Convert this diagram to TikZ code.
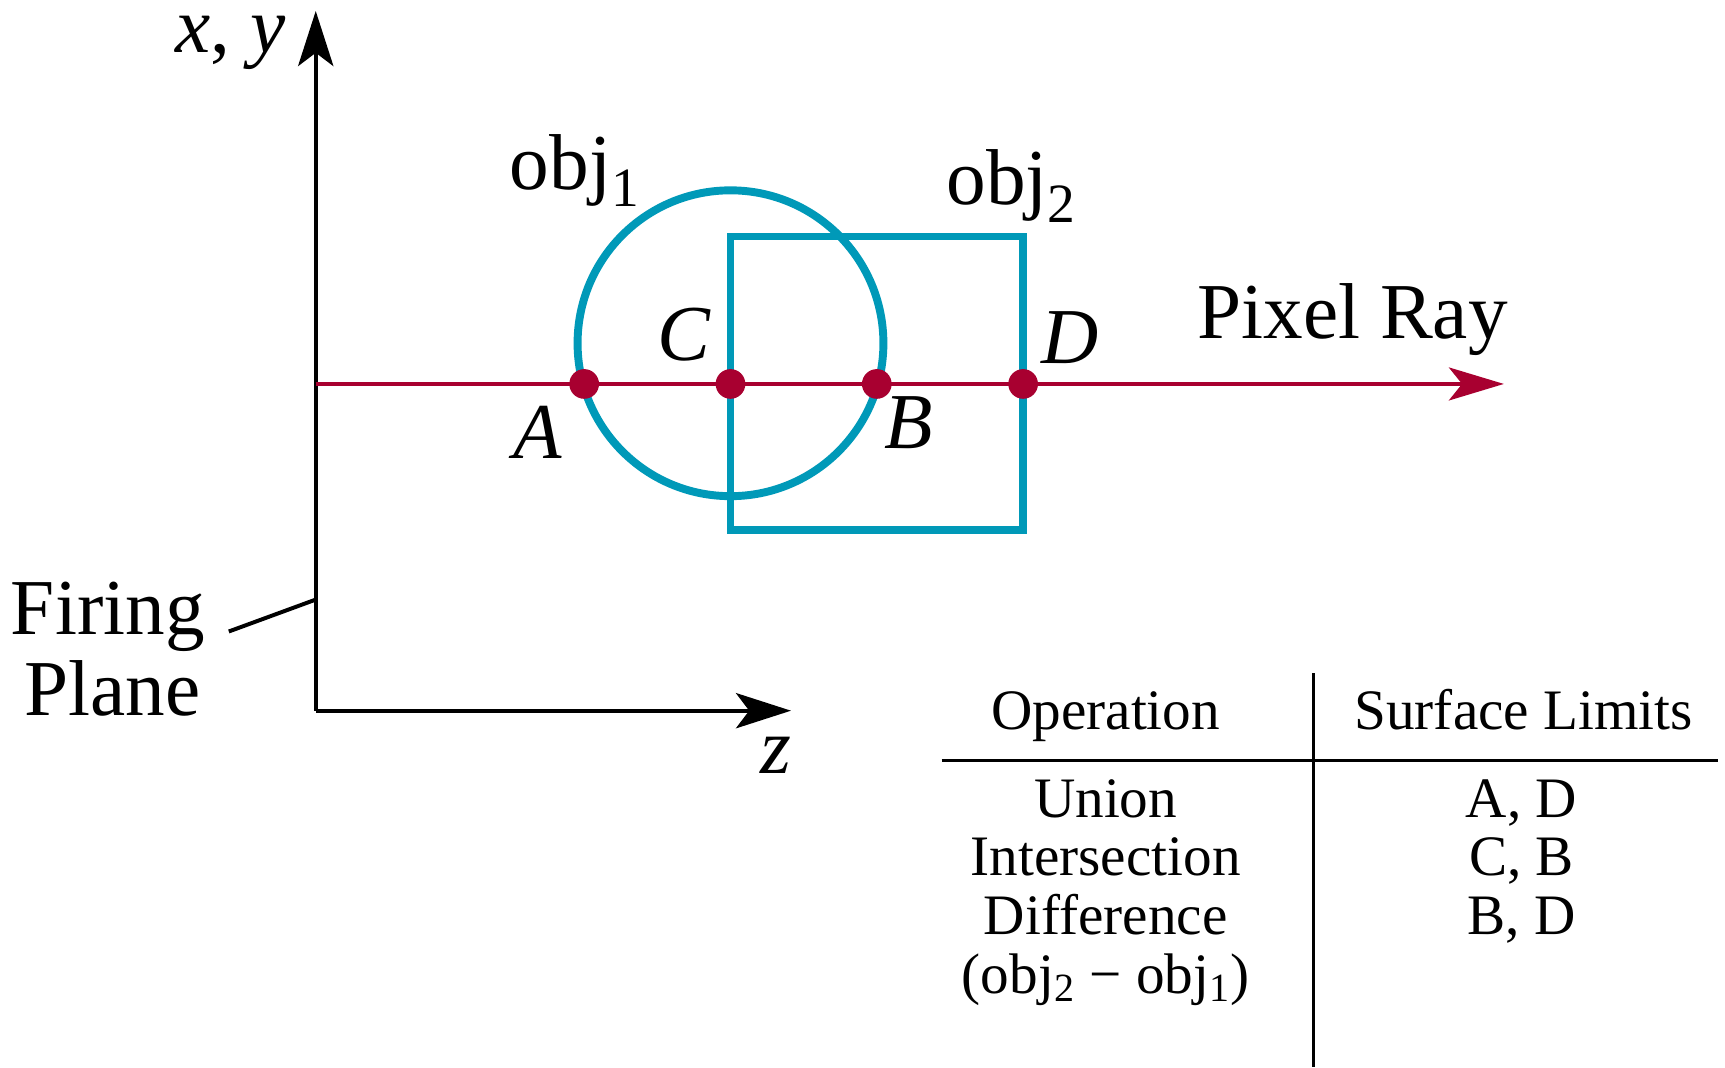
\documentclass[tikz,border=0pt]{standalone}
\usepackage{fontspec}
\setmainfont{Liberation Serif}
\usetikzlibrary{arrows.meta}
\definecolor{tealobj}{RGB}{0,153,184}
\definecolor{raycol}{RGB}{168,0,48}
\begin{document}
\begin{tikzpicture}[x=0.5pt,y=-0.5pt,
  big/.style={font=\fontsize{36}{40}\selectfont, inner sep=0pt},
  bigit/.style={font=\fontsize{36}{40}\selectfont\itshape, inner sep=0pt},
  tab/.style={font=\fontsize{26}{26}\selectfont, inner sep=0pt},
  axisline/.style={line width=1.8pt, -{Stealth[length=25pt,width=16pt,inset=6pt]}},
  objline/.style={draw=tealobj, line width=3.6pt},
  rayline/.style={draw=raycol, line width=1.6pt, -{Stealth[length=25pt,width=15pt,inset=6pt]}},
  hit/.style={circle, fill=raycol, minimum size=13.5pt, inner sep=0pt},
  rule/.style={line width=1.4pt}]
\useasboundingbox (0,0) rectangle (1568,970);
% axes
\coordinate (O) at (287,646);
\coordinate (ytip) at (287,10);
\coordinate (ztip) at (719,646);
\draw[axisline] (O) -- (ytip);
\draw[axisline] (O) -- (ztip);
\node[bigit, anchor=base east] (xylab) at (260,48) {x\upshape, \itshape y};
\node[bigit, anchor=base] (zlab) at (705,703) {z};
% firing plane
\coordinate (fp) at (287,545);
\coordinate (fpend) at (208,574);
\draw[rule, line width=1.8pt] (fpend) -- (fp);
\node[big, anchor=base] (firing) at (98,577) {Firing};
\node[big, anchor=base] (plane) at (102,650) {Plane};
% objects
\draw[objline] (664,312) circle[radius=139];
\draw[objline] (664,215) rectangle (930,482);
\node[big, anchor=base west] (obj1) at (463,172) {obj\textsubscript{1}};
\node[big, anchor=base west] (obj2) at (860,186) {obj\textsubscript{2}};
% ray
\coordinate (rs) at (287,349);
\coordinate (re) at (1367,349);
\draw[rayline] (rs) -- (re);
\node[big, anchor=base west] (pixray) at (1088,308) {Pixel Ray};
\node[hit] (A) at (531,349) {};
\node[hit] (C) at (664,349) {};
\node[hit] (B) at (797,349) {};
\node[hit] (D) at (930,349) {};
\node[bigit, anchor=base west] (Alab) at (466,417) {A};
\node[bigit, anchor=base west] (Clab) at (597,328) {C};
\node[bigit, anchor=base west] (Blab) at (804,408) {B};
\node[bigit, anchor=base west] (Dlab) at (946,330) {D};
% table
\coordinate (vt) at (1194,612);
\coordinate (vb) at (1194,970);
\coordinate (hl) at (856,691);
\coordinate (hr) at (1562,691);
\draw[rule] (vt) -- (vb);
\draw[rule] (hl) -- (hr);
\node[tab, anchor=base] (hop) at (1005,663) {Operation};
\node[tab, anchor=base] (hsl) at (1385,663) {Surface Limits};
\node[tab, anchor=base] (r1) at (1005,743) {Union};
\node[tab, anchor=base] (r2) at (1005,796) {Intersection};
\node[tab, anchor=base] (r3) at (1005,849) {Difference};
\node[tab, anchor=base] (r4) at (1005,903) {(obj\textsubscript{2} − obj\textsubscript{1})};
\node[tab, anchor=base] (s1) at (1383,743) {A, D};
\node[tab, anchor=base] (s2) at (1383,796) {C, B};
\node[tab, anchor=base] (s3) at (1383,849) {B, D};
\end{tikzpicture}
\end{document}
